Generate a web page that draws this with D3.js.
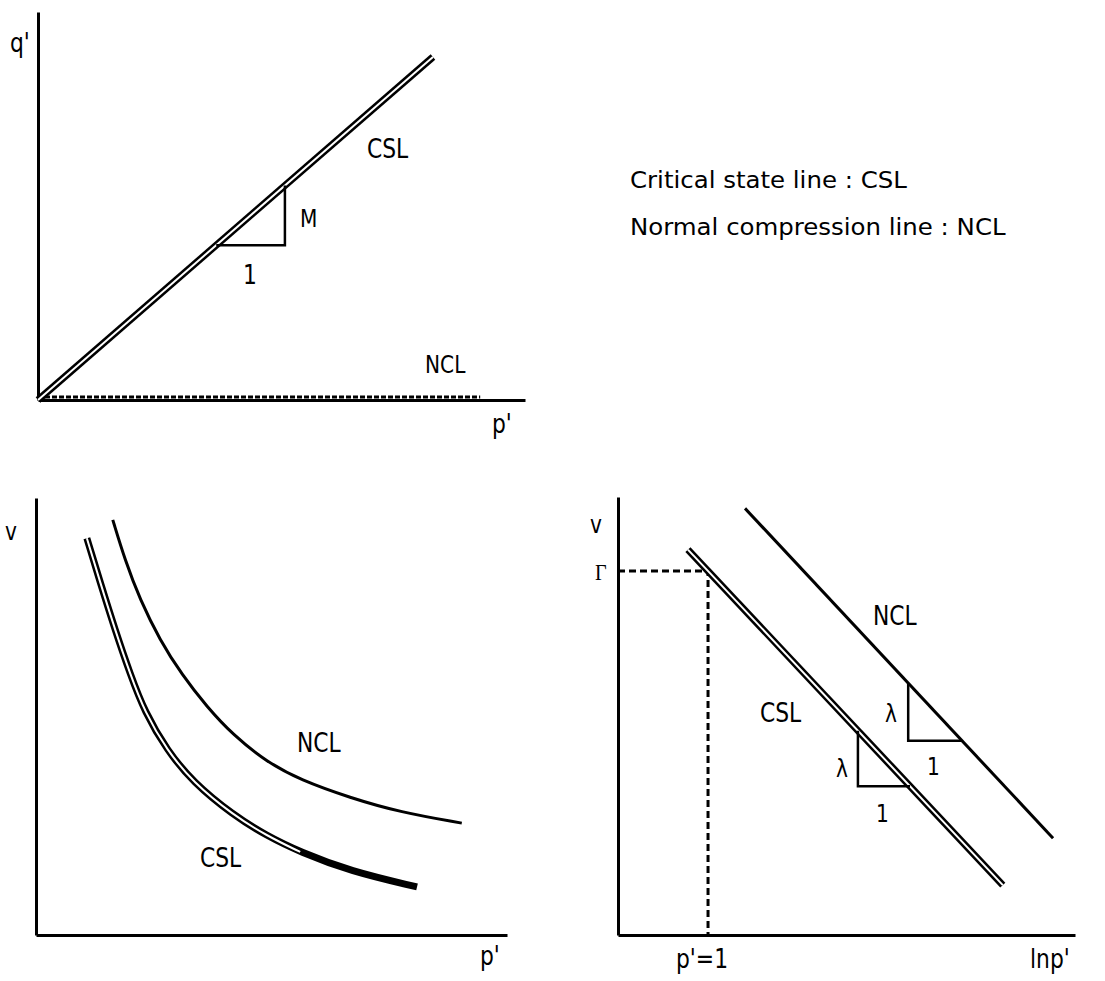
<!DOCTYPE html>
<html>
<head>
<meta charset="utf-8">
<script src="https://cdn.jsdelivr.net/npm/d3@7"></script>
<style>
body { margin: 0; background: #fff; }
text { font-family: "DejaVu Sans", sans-serif; fill: #000; }
</style>
</head>
<body>
<div id="container"></div>
<script>
// q'-p' plane (axis units 0..100)
const cslQP = [[0, 0], [81.1, 88.4]];
const nclQP = [[0, 0.8], [90.8, 0.8]];
const triQP = [36.6, 50.7];

// v-p' plane
const nclVP = [[16.3, 95.0], [18.9, 85.8], [22.1, 76.7], [26.3, 67.5], [31.0, 59.5], [36.3, 52.2],
  [41.8, 45.8], [49.0, 39.6], [56.1, 35.5], [66.7, 31.4], [77.3, 28.1], [90.4, 25.6]];
const cslVP = [[10.8, 90.8], [13.6, 80.8], [16.8, 69.8], [20.0, 59.7], [23.1, 51.0], [27.8, 42.3],
  [33.3, 35.0], [41.8, 27.5], [49.0, 22.7], [56.1, 19.0], [66.7, 14.6], [80.9, 11.0]];

// v-lnp' plane
const cslVL = [[15.3, 88.0], [84.2, 11.4]];
const nclVL = [[27.8, 97.4], [95.2, 22.1]];
const pOne = 19.7;
const triCSL = [52.5, 63.9];
const triNCL = [63.5, 75.3];

const legendLines = ["Critical state line : CSL", "Normal compression line : NCL"];

const width = 1105, height = 981;
const svg = d3.select("#container").append("svg")
  .attr("width", width)
  .attr("height", height);

const line = d3.line().x(d => d[0]).y(d => d[1]);

function panel(x0, x1, y0, y1) {
  const x = d3.scaleLinear().domain([0, 100]).range([x0, x1]);
  const y = d3.scaleLinear().domain([0, 100]).range([y0, y1]);
  const g = svg.append("g");
  g.append("g").attr("transform", `translate(0,${y0})`)
    .call(d3.axisBottom(x).tickValues([]).tickSizeOuter(0));
  g.append("g").attr("transform", `translate(${x0},0)`)
    .call(d3.axisLeft(y).tickValues([]).tickSizeOuter(0));
  g.selectAll(".domain").attr("stroke", "#000").attr("stroke-width", 3);
  return { g, x, y };
}

function px(p, pts) { return pts.map(d => [p.x(d[0]), p.y(d[1])]); }

function doubleLine(p, pts, curve, whitePts) {
  const l = d3.line().curve(curve || d3.curveLinear);
  p.g.append("path").attr("d", l(px(p, pts)))
    .attr("fill", "none").attr("stroke", "#000").attr("stroke-width", 7);
  p.g.append("path").attr("d", l(px(p, whitePts || pts)))
    .attr("fill", "none").attr("stroke", "#fff").attr("stroke-width", 2);
}

function single(p, pts, curve, dash) {
  const l = d3.line().curve(curve || d3.curveLinear);
  p.g.append("path").attr("d", l(px(p, pts)))
    .attr("fill", "none").attr("stroke", "#000").attr("stroke-width", 3)
    .attr("stroke-dasharray", dash || null);
}

function at(pts, xv) {
  const [a, b] = pts;
  return a[1] + (b[1] - a[1]) * (xv - a[0]) / (b[0] - a[0]);
}

function label(txt, x, y, size, family) {
  svg.append("text")
    .attr("transform", `translate(${x},${y}) scale(0.84,1)`)
    .attr("font-size", size)
    .style("font-family", family || null)
    .text(txt);
}

// top-left: q' vs p'
const A = panel(38, 525, 400, 12);
single(A, nclQP, null, "5,2");
doubleLine(A, cslQP);
const qa = at(cslQP, triQP[0]), qb = at(cslQP, triQP[1]);
A.g.append("path")
  .attr("d", line(px(A, [[triQP[0], qa], [triQP[1], qa], [triQP[1], qb]])))
  .attr("fill", "none").attr("stroke", "#000").attr("stroke-width", 2.5);

// bottom-left: v vs p'
const B = panel(36, 507, 935, 498);
single(B, nclVP, d3.curveBasis);
doubleLine(B, cslVP, d3.curveBasis, cslVP.slice(0, 10));

// bottom-right: v vs ln p'
const C = panel(618, 1075, 935, 497);
const gam = at(cslVL, pOne);
single(C, [[0, gam], [pOne, gam], [pOne, 0]], null, "7,4");
doubleLine(C, cslVL);
single(C, nclVL);
[[cslVL, triCSL], [nclVL, triNCL]].forEach(([ln, t]) => {
  const va = at(ln, t[0]), vb = at(ln, t[1]);
  C.g.append("path")
    .attr("d", line(px(C, [[t[0], va], [t[0], vb], [t[1], vb]])))
    .attr("fill", "none").attr("stroke", "#000").attr("stroke-width", 2.5);
});

// labels
label("q'", 10, 52, 26);
label("CSL", 367, 158, 26);
label("M", 300, 227, 24);
label("1", 243, 284, 26);
label("NCL", 425, 373, 24);
label("p'", 492, 433, 26);

label("v", 5, 540, 24);
label("NCL", 297, 752, 26);
label("CSL", 200, 867, 26);
label("p'", 480, 965, 26);

label("v", 590, 533, 24);
label("\u0393", 595, 580, 24, "Liberation Serif");
label("NCL", 873, 625, 26);
label("CSL", 760, 722, 26);
label("\u03bb", 885, 722, 24);
label("\u03bb", 836, 777, 24);
label("1", 927, 775, 24);
label("1", 876, 822, 24);
label("p'=1", 676, 968, 26);
label("lnp'", 1030, 968, 26);

// legend
const leg = svg.append("g");
leg.selectAll("text")
  .data(legendLines)
  .enter().append("text")
  .attr("x", 630)
  .attr("y", (d, i) => 188 + i * 47)
  .attr("font-size", 23)
  .text(d => d);
const w0 = leg.select("text").node().getComputedTextLength();
const sx = 277 / w0;
leg.selectAll("text")
  .attr("transform", (d, i) => `translate(630,${188 + i * 47}) scale(${sx},1) translate(-630,${-(188 + i * 47)})`);
</script>
</body>
</html>
